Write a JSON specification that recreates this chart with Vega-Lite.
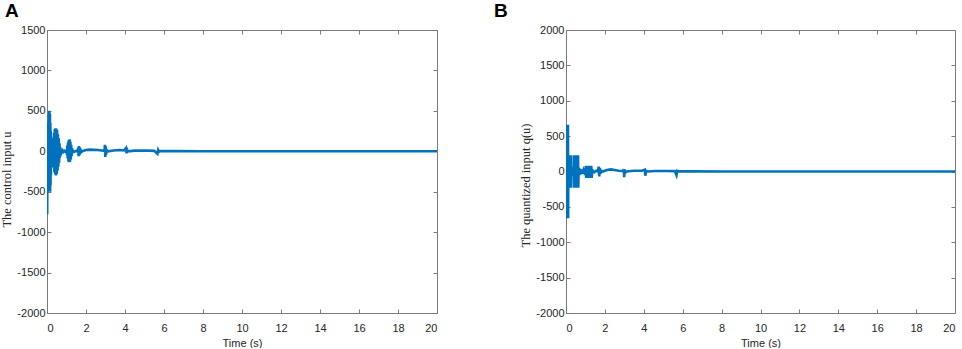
{
  "$schema": "https://vega.github.io/schema/vega-lite/v6.json",
  "background": "white",
  "padding": {"left": 0, "top": 2, "right": 0, "bottom": 0},
  "config": {
    "view": {"stroke": null},
    "axis": {
      "grid": false,
      "domainColor": "#7a7a7a",
      "domainWidth": 1,
      "tickColor": "#7a7a7a",
      "tickSize": -4,
      "labelColor": "#262626",
      "labelFont": "Liberation Sans",
      "labelFontSize": 11,
      "titleColor": "#262626",
      "titleFont": "Liberation Sans",
      "titleFontSize": 11,
      "titleFontWeight": "normal"
    },
    "title": {"font": "Liberation Sans", "fontSize": 19, "fontWeight": "bold", "color": "black", "anchor": "start", "frame": "group"}
  },
  "datasets": {
    "u": [
      {"t": 0, "v": 0}, {"t": 0.005, "v": -300}, {"t": 0.01, "v": -780}, {"t": 0.02, "v": -200},
      {"t": 0.03, "v": 150}, {"t": 0.04, "v": -450}, {"t": 0.05, "v": 350}, {"t": 0.06, "v": -500},
      {"t": 0.07, "v": 250}, {"t": 0.08, "v": -480}, {"t": 0.09, "v": 450}, {"t": 0.1, "v": -500},
      {"t": 0.11, "v": 500}, {"t": 0.12, "v": -490}, {"t": 0.13, "v": 480}, {"t": 0.14, "v": -480},
      {"t": 0.15, "v": 460}, {"t": 0.16, "v": -500}, {"t": 0.17, "v": 350}, {"t": 0.18, "v": -420},
      {"t": 0.19, "v": 250}, {"t": 0.2, "v": -300}, {"t": 0.21, "v": 180}, {"t": 0.22, "v": -200},
      {"t": 0.23, "v": 100}, {"t": 0.24, "v": -120}, {"t": 0.25, "v": 60}, {"t": 0.26, "v": -60},
      {"t": 0.28, "v": 80}, {"t": 0.3, "v": -110}, {"t": 0.32, "v": 160}, {"t": 0.34, "v": -200},
      {"t": 0.36, "v": 230}, {"t": 0.38, "v": -260}, {"t": 0.4, "v": 275}, {"t": 0.42, "v": -285},
      {"t": 0.44, "v": 285}, {"t": 0.46, "v": -300}, {"t": 0.48, "v": 280}, {"t": 0.5, "v": -280},
      {"t": 0.52, "v": 260}, {"t": 0.54, "v": -240}, {"t": 0.56, "v": 210}, {"t": 0.58, "v": -190},
      {"t": 0.6, "v": 160}, {"t": 0.62, "v": -140}, {"t": 0.64, "v": 100}, {"t": 0.66, "v": -80},
      {"t": 0.68, "v": 50}, {"t": 0.7, "v": -40}, {"t": 0.72, "v": 25}, {"t": 0.75, "v": -15},
      {"t": 0.8, "v": 10}, {"t": 0.85, "v": -8}, {"t": 0.9, "v": 5}, {"t": 0.95, "v": -5},
      {"t": 1.0, "v": 10}, {"t": 1.02, "v": -40}, {"t": 1.04, "v": 70}, {"t": 1.06, "v": -90},
      {"t": 1.08, "v": 110}, {"t": 1.1, "v": -125}, {"t": 1.12, "v": 140}, {"t": 1.14, "v": -135},
      {"t": 1.16, "v": 150}, {"t": 1.18, "v": -130}, {"t": 1.2, "v": 120}, {"t": 1.22, "v": -100},
      {"t": 1.24, "v": 80}, {"t": 1.26, "v": -60}, {"t": 1.28, "v": 40}, {"t": 1.3, "v": -25},
      {"t": 1.33, "v": 10}, {"t": 1.4, "v": -5}, {"t": 1.5, "v": 5}, {"t": 1.58, "v": 0},
      {"t": 1.6, "v": 45}, {"t": 1.62, "v": -60}, {"t": 1.64, "v": 65}, {"t": 1.66, "v": -50},
      {"t": 1.68, "v": 40}, {"t": 1.7, "v": -30}, {"t": 1.73, "v": 15}, {"t": 1.78, "v": -5},
      {"t": 1.85, "v": 5}, {"t": 2.0, "v": 15}, {"t": 2.2, "v": 20}, {"t": 2.4, "v": 18},
      {"t": 2.6, "v": 15}, {"t": 2.8, "v": 10}, {"t": 2.95, "v": 5}, {"t": 2.97, "v": 80},
      {"t": 2.99, "v": -70}, {"t": 3.01, "v": 60}, {"t": 3.03, "v": -40}, {"t": 3.06, "v": 15},
      {"t": 3.15, "v": 0}, {"t": 3.4, "v": 10}, {"t": 3.7, "v": 15}, {"t": 3.95, "v": 10},
      {"t": 4.05, "v": 40}, {"t": 4.08, "v": -25}, {"t": 4.11, "v": 20}, {"t": 4.15, "v": 0},
      {"t": 4.5, "v": 8}, {"t": 5.0, "v": 10}, {"t": 5.5, "v": 5}, {"t": 5.66, "v": -30},
      {"t": 5.7, "v": 15}, {"t": 5.74, "v": -5}, {"t": 5.8, "v": 3}, {"t": 6.5, "v": 2},
      {"t": 8, "v": 0}, {"t": 10, "v": 0}, {"t": 12, "v": 0}, {"t": 14, "v": 0},
      {"t": 16, "v": 0}, {"t": 18, "v": 0}, {"t": 20, "v": 0}
    ],
    "qu": [
      {"t": 0, "v": 0}, {"t": 0.005, "v": -200}, {"t": 0.01, "v": -660}, {"t": 0.02, "v": 660},
      {"t": 0.03, "v": -660}, {"t": 0.04, "v": 660}, {"t": 0.05, "v": -660}, {"t": 0.06, "v": 660},
      {"t": 0.07, "v": -660}, {"t": 0.08, "v": 660}, {"t": 0.09, "v": -660}, {"t": 0.1, "v": 660},
      {"t": 0.11, "v": -660}, {"t": 0.12, "v": 230}, {"t": 0.13, "v": -230}, {"t": 0.14, "v": 230},
      {"t": 0.15, "v": -230}, {"t": 0.16, "v": 230}, {"t": 0.17, "v": -230}, {"t": 0.18, "v": 230},
      {"t": 0.19, "v": -230}, {"t": 0.2, "v": 230}, {"t": 0.21, "v": -230}, {"t": 0.22, "v": 230},
      {"t": 0.23, "v": -230}, {"t": 0.24, "v": 230}, {"t": 0.25, "v": -230}, {"t": 0.27, "v": 60},
      {"t": 0.29, "v": -60}, {"t": 0.31, "v": 30}, {"t": 0.33, "v": -30}, {"t": 0.36, "v": 60},
      {"t": 0.38, "v": -60}, {"t": 0.4, "v": 230}, {"t": 0.41, "v": -230}, {"t": 0.42, "v": 230},
      {"t": 0.43, "v": -230}, {"t": 0.44, "v": 230}, {"t": 0.45, "v": -230}, {"t": 0.46, "v": 230},
      {"t": 0.47, "v": -230}, {"t": 0.48, "v": 230}, {"t": 0.49, "v": -230}, {"t": 0.5, "v": 230},
      {"t": 0.51, "v": -230}, {"t": 0.52, "v": 230}, {"t": 0.53, "v": -230}, {"t": 0.54, "v": 230},
      {"t": 0.55, "v": -230}, {"t": 0.56, "v": 230}, {"t": 0.57, "v": -230}, {"t": 0.58, "v": 230},
      {"t": 0.59, "v": -230}, {"t": 0.6, "v": 230}, {"t": 0.61, "v": -230}, {"t": 0.62, "v": 230},
      {"t": 0.63, "v": -230}, {"t": 0.65, "v": 50}, {"t": 0.68, "v": -50}, {"t": 0.72, "v": 40},
      {"t": 0.76, "v": -40}, {"t": 0.8, "v": 30}, {"t": 0.85, "v": -30}, {"t": 0.9, "v": 20},
      {"t": 0.95, "v": -20}, {"t": 1.0, "v": 0}, {"t": 1.02, "v": 80}, {"t": 1.04, "v": -90},
      {"t": 1.06, "v": 80}, {"t": 1.08, "v": -90}, {"t": 1.1, "v": 80}, {"t": 1.12, "v": -90},
      {"t": 1.14, "v": 80}, {"t": 1.16, "v": -90}, {"t": 1.18, "v": 80}, {"t": 1.2, "v": -90},
      {"t": 1.22, "v": 80}, {"t": 1.24, "v": -90}, {"t": 1.26, "v": 80}, {"t": 1.28, "v": -90},
      {"t": 1.3, "v": 80}, {"t": 1.32, "v": -90}, {"t": 1.35, "v": 20}, {"t": 1.45, "v": -10},
      {"t": 1.55, "v": 10}, {"t": 1.65, "v": 0}, {"t": 1.68, "v": 70}, {"t": 1.71, "v": -70},
      {"t": 1.74, "v": 50}, {"t": 1.77, "v": -30}, {"t": 1.82, "v": 10}, {"t": 1.9, "v": 0},
      {"t": 2.1, "v": 20}, {"t": 2.3, "v": 30}, {"t": 2.5, "v": 20}, {"t": 2.7, "v": 10},
      {"t": 2.95, "v": 5}, {"t": 2.97, "v": 35}, {"t": 2.99, "v": -80}, {"t": 3.01, "v": 30},
      {"t": 3.04, "v": -20}, {"t": 3.1, "v": 0}, {"t": 3.5, "v": 10}, {"t": 3.9, "v": 10},
      {"t": 4.05, "v": 25}, {"t": 4.08, "v": -60}, {"t": 4.11, "v": 10}, {"t": 4.2, "v": 0},
      {"t": 4.6, "v": 8}, {"t": 5.2, "v": 8}, {"t": 5.6, "v": 5}, {"t": 5.68, "v": -50},
      {"t": 5.72, "v": 10}, {"t": 5.8, "v": 2}, {"t": 6.5, "v": 2}, {"t": 8, "v": 0},
      {"t": 10, "v": 0}, {"t": 12, "v": 0}, {"t": 14, "v": 0}, {"t": 16, "v": 0},
      {"t": 18, "v": 0}, {"t": 20, "v": 0}
    ]
  },
  "spacing": 129,
  "bounds": "flush",
  "hconcat": [
    {
      "width": 390,
      "height": 283,
      "title": {"text": "A", "dx": -42, "offset": 3},
      "data": {"name": "u"},
      "layer": [
        {
          "mark": {"type": "line", "color": "#0072BD", "strokeWidth": 2.6, "clip": true},
          "encoding": {
            "x": {"field": "t", "type": "quantitative", "scale": {"domain": [0, 20], "nice": false, "zero": false},
                  "axis": {"orient": "bottom", "title": "Time (s)", "values": [0, 2, 4, 6, 8, 10, 12, 14, 16, 18, 20], "labelPadding": 13, "titlePadding": 4}},
            "y": {"field": "v", "type": "quantitative", "scale": {"domain": [-2000, 1500], "nice": false},
                  "axis": {"orient": "left", "title": "The control input u", "titleFont": "Liberation Serif", "titleFontSize": 12.5, "titleY": 149, "values": [-2000, -1500, -1000, -500, 0, 500, 1000, 1500], "labelExpr": "'' + datum.value", "labelPadding": 6, "titlePadding": 3}}
          }
        },
        {
          "mark": {"type": "line", "opacity": 0},
          "encoding": {
            "x": {"field": "t", "type": "quantitative", "axis": {"orient": "top", "title": null, "labels": false, "values": [0, 2, 4, 6, 8, 10, 12, 14, 16, 18, 20]}},
            "y": {"field": "v", "type": "quantitative", "axis": {"orient": "right", "title": null, "labels": false, "values": [-2000, -1500, -1000, -500, 0, 500, 1000, 1500]}}
          }
        }
      ],
      "resolve": {"axis": {"x": "independent", "y": "independent"}}
    },
    {
      "width": 389,
      "height": 283,
      "title": {"text": "B", "dx": -72, "offset": 3},
      "data": {"name": "qu"},
      "layer": [
        {
          "mark": {"type": "line", "color": "#0072BD", "strokeWidth": 2.6, "clip": true},
          "encoding": {
            "x": {"field": "t", "type": "quantitative", "scale": {"domain": [0, 20], "nice": false, "zero": false},
                  "axis": {"orient": "bottom", "title": "Time (s)", "values": [0, 2, 4, 6, 8, 10, 12, 14, 16, 18, 20], "labelPadding": 13, "titlePadding": 4}},
            "y": {"field": "v", "type": "quantitative", "scale": {"domain": [-2000, 2000], "nice": false},
                  "axis": {"orient": "left", "title": "The quantized input q(u)", "titleFont": "Liberation Serif", "titleFontSize": 12.5, "titleY": 155, "values": [-2000, -1500, -1000, -500, 0, 500, 1000, 1500, 2000], "labelExpr": "'' + datum.value", "labelPadding": 6, "titlePadding": 3}}
          }
        },
        {
          "mark": {"type": "line", "opacity": 0},
          "encoding": {
            "x": {"field": "t", "type": "quantitative", "axis": {"orient": "top", "title": null, "labels": false, "values": [0, 2, 4, 6, 8, 10, 12, 14, 16, 18, 20]}},
            "y": {"field": "v", "type": "quantitative", "axis": {"orient": "right", "title": null, "labels": false, "values": [-2000, -1500, -1000, -500, 0, 500, 1000, 1500, 2000]}}
          }
        }
      ],
      "resolve": {"axis": {"x": "independent", "y": "independent"}}
    }
  ]
}
